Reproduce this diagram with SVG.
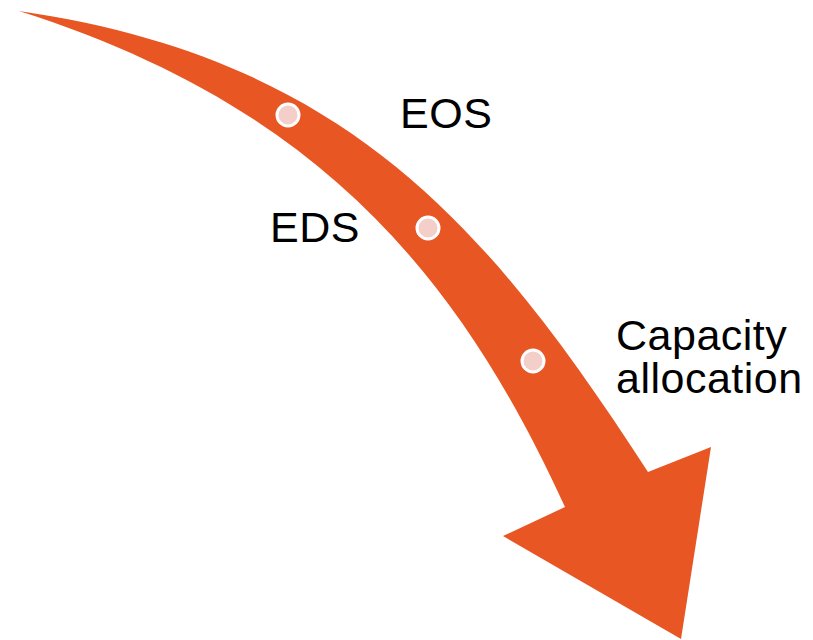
<svg xmlns="http://www.w3.org/2000/svg" width="813" height="640" viewBox="0 0 813 640">
  <style>
    .arrow { fill: #E85624; }
    .dot { fill: #F4CFC9; stroke: #FFFFFF; stroke-width: 3; }
    .label { font-family: "Liberation Sans", Arial, sans-serif; font-size: 43px; letter-spacing: 0.5px; fill: #000000; }
  </style>
  <rect width="813" height="640" fill="#FFFFFF"/>

  <!-- curved arrow: outer edge, arrowhead, inner edge back to the pointed tail -->
  <g id="connectors">
    <path class="arrow" d="M19,11 C349,59 490,229 648,472 L711,447 L681,639 L503,536 L565,507 C453,261 305,102 19,11 Z"/>
  </g>

  <g id="dot-eos">
    <circle class="dot" cx="288" cy="115" r="11"/>
  </g>
  <g id="dot-eds">
    <circle class="dot" cx="428" cy="228" r="11"/>
  </g>
  <g id="dot-capacity">
    <circle class="dot" cx="533" cy="361" r="11"/>
  </g>

  <g id="label-eos">
    <text class="label" x="400" y="128">EOS</text>
  </g>
  <g id="label-eds">
    <text class="label" x="270" y="242">EDS</text>
  </g>
  <g id="label-capacity">
    <text class="label" x="616" y="350"><tspan x="616" y="350">Capacity</tspan><tspan x="616" y="393">allocation</tspan></text>
  </g>
</svg>
